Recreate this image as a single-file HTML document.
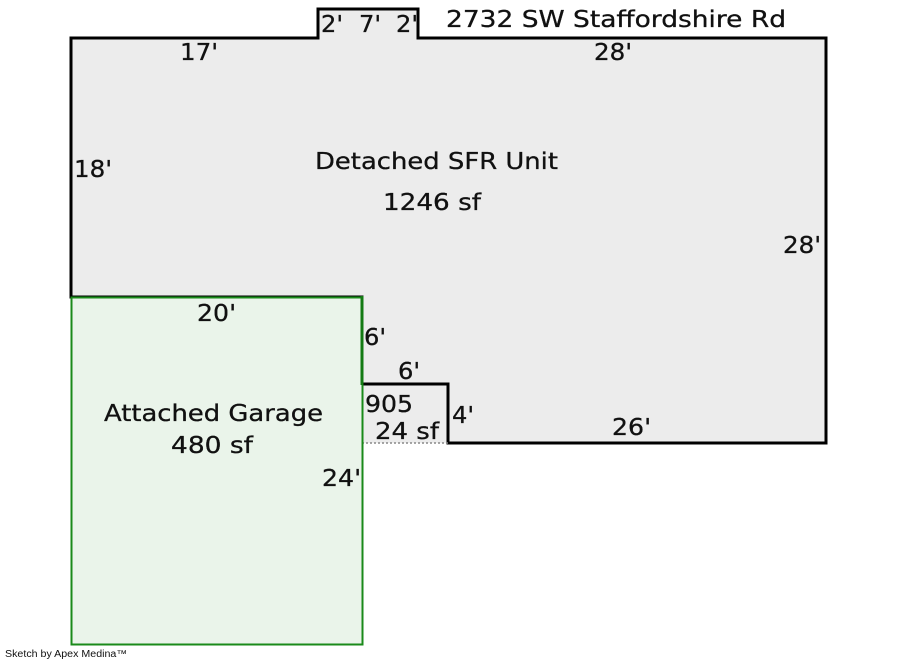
<!DOCTYPE html>
<html><head><meta charset="utf-8"><style>
html,body{margin:0;padding:0;background:#fff;}
svg{display:block;}
text{font-family:"DejaVu Sans","Liberation Sans",sans-serif;font-size:23px;fill:#111;stroke:#111;stroke-width:0.3px;}
</style></head><body>
<svg width="900" height="660" viewBox="0 0 900 660" xmlns="http://www.w3.org/2000/svg">
<rect x="362" y="384" width="86" height="59" fill="#ececec"/>
<path d="M71,38 H318 V9 H418 V38 H826 V443 H448 V384 H362 V297 H71 Z" fill="#ececec" stroke="#000" stroke-width="3"/>
<line x1="362" y1="443" x2="448" y2="443" stroke="#888" stroke-width="1.5" stroke-dasharray="2,2"/>
<rect x="71.5" y="297.5" width="291" height="347" fill="#eaf4ea" stroke="#1a8a1a" stroke-width="2"/>
<line x1="362" y1="296" x2="362" y2="385" stroke="#137a13" stroke-width="3"/>
<text x="321" y="32" textLength="22" lengthAdjust="spacingAndGlyphs">2'</text>
<text x="359" y="32" textLength="22" lengthAdjust="spacingAndGlyphs">7'</text>
<text x="396" y="32" textLength="22" lengthAdjust="spacingAndGlyphs">2'</text>
<text x="446" y="27" textLength="340" lengthAdjust="spacingAndGlyphs">2732 SW Staffordshire Rd</text>
<text x="180" y="60" textLength="38" lengthAdjust="spacingAndGlyphs">17'</text>
<text x="594" y="60" textLength="38" lengthAdjust="spacingAndGlyphs">28'</text>
<text x="74" y="177" textLength="38" lengthAdjust="spacingAndGlyphs">18'</text>
<text x="783" y="253" textLength="38" lengthAdjust="spacingAndGlyphs">28'</text>
<text x="315" y="169" textLength="243" lengthAdjust="spacingAndGlyphs">Detached SFR Unit</text>
<text x="383" y="210" textLength="98" lengthAdjust="spacingAndGlyphs">1246 sf</text>
<text x="197" y="321" textLength="39" lengthAdjust="spacingAndGlyphs">20'</text>
<text x="364" y="345" textLength="22" lengthAdjust="spacingAndGlyphs">6'</text>
<text x="398" y="379" textLength="22" lengthAdjust="spacingAndGlyphs">6'</text>
<text x="365" y="412" textLength="48" lengthAdjust="spacingAndGlyphs">905</text>
<text x="375" y="439" textLength="64" lengthAdjust="spacingAndGlyphs">24 sf</text>
<text x="452" y="423" textLength="22" lengthAdjust="spacingAndGlyphs">4'</text>
<text x="612" y="435" textLength="39" lengthAdjust="spacingAndGlyphs">26'</text>
<text x="104" y="421" textLength="219" lengthAdjust="spacingAndGlyphs">Attached Garage</text>
<text x="171" y="453" textLength="82" lengthAdjust="spacingAndGlyphs">480 sf</text>
<text x="322" y="486" textLength="39" lengthAdjust="spacingAndGlyphs">24'</text>
<text x="5" y="657" style="font-family:'Liberation Sans',sans-serif;font-size:10px;stroke:none" textLength="122" lengthAdjust="spacingAndGlyphs">Sketch by Apex Medina™</text>
</svg>
</body></html>
